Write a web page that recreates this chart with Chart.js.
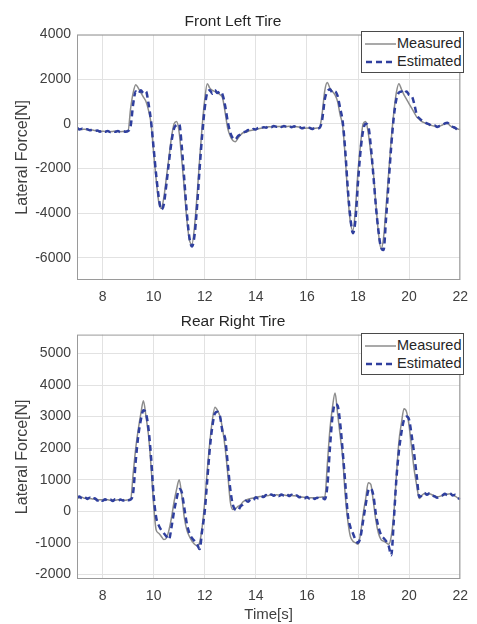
<!DOCTYPE html>
<html>
<head>
<meta charset="utf-8">
<script src="https://cdn.jsdelivr.net/npm/chart.js@4.4.1/dist/chart.umd.min.js"></script>
<style>
  body { margin: 0; background: #fff; width: 477px; height: 624px; overflow: hidden; position: relative; font-family: "Liberation Sans", Arial, sans-serif; }
  .panel { position: absolute; left: 0; width: 477px; }
  .legend { position: absolute; left: 361px; width: 101px; height: 40px; border: 1px solid #4a4a4a; background: #fff; color: #262626; font-size: 14.5px; }
  .legend .row { position: absolute; left: 3px; height: 18px; line-height: 18px; white-space: nowrap; }
  .legend svg { vertical-align: middle; margin-right: 1px; }
</style>
</head>
<body>
<div class="panel" style="top:0;height:312px;"><canvas id="front"></canvas></div>
<div class="panel" style="top:300px;height:324px;"><canvas id="rear"></canvas></div>

<div class="legend" style="top:31px;">
  <div class="row" style="top:2px;"><svg width="31" height="6"><line x1="0" y1="3" x2="31" y2="3" stroke="#8c8c8c" stroke-width="1.5"/></svg>Measured</div>
  <div class="row" style="top:20px;"><svg width="31" height="6"><line x1="1" y1="3" x2="31" y2="3" stroke="#2f3f9e" stroke-width="2.5" stroke-dasharray="6,4"/></svg>Estimated</div>
</div>
<div class="legend" style="top:333px;">
  <div class="row" style="top:2px;"><svg width="31" height="6"><line x1="0" y1="3" x2="31" y2="3" stroke="#8c8c8c" stroke-width="1.5"/></svg>Measured</div>
  <div class="row" style="top:20px;"><svg width="31" height="6"><line x1="1" y1="3" x2="31" y2="3" stroke="#2f3f9e" stroke-width="2.5" stroke-dasharray="6,4"/></svg>Estimated</div>
</div>

<script>
// time stamps [s]
const time = [
  7.0, 7.1, 7.2, 7.3, 7.4, 7.5, 7.6, 7.7, 7.8, 7.9,
  8.0, 8.1, 8.2, 8.3, 8.4, 8.5, 8.6, 8.7, 8.8, 8.9,
  9.0, 9.1, 9.2, 9.3, 9.4, 9.5, 9.6, 9.7, 9.8, 9.9,
  10.0, 10.1, 10.2, 10.3, 10.4, 10.5, 10.6, 10.7, 10.8, 10.9,
  11.0, 11.1, 11.2, 11.3, 11.4, 11.5, 11.6, 11.7, 11.8, 11.9,
  12.0, 12.1, 12.2, 12.3, 12.4, 12.5, 12.6, 12.7, 12.8, 12.9,
  13.0, 13.1, 13.2, 13.3, 13.4, 13.5, 13.6, 13.7, 13.8, 13.9,
  14.0, 14.1, 14.2, 14.3, 14.4, 14.5, 14.6, 14.7, 14.8, 14.9,
  15.0, 15.1, 15.2, 15.3, 15.4, 15.5, 15.6, 15.7, 15.8, 15.9,
  16.0, 16.1, 16.2, 16.3, 16.4, 16.5, 16.6, 16.7, 16.8, 16.9,
  17.0, 17.1, 17.2, 17.3, 17.4, 17.5, 17.6, 17.7, 17.8, 17.9,
  18.0, 18.1, 18.2, 18.3, 18.4, 18.5, 18.6, 18.7, 18.8, 18.9,
  19.0, 19.1, 19.2, 19.3, 19.4, 19.5, 19.6, 19.7, 19.8, 19.9,
  20.0, 20.1, 20.2, 20.3, 20.4, 20.5, 20.6, 20.7, 20.8, 20.9,
  21.0, 21.1, 21.2, 21.3, 21.4, 21.5, 21.6, 21.7, 21.8, 21.9,
  22.0
];

// front left tire lateral force [N]
const frontMeasured = [
  -200, -230, -250, -240, -260, -270, -280, -300, -310, -320,
  -330, -340, -330, -350, -340, -330, -340, -350, -340, -330,
  -310, 700, 1400, 1750, 1600, 1400, 1200, 1000, 600, 0,
  -1300, -2500, -3500, -3800, -3300, -2400, -1500, -600, 0, 100,
  -400, -1600, -2900, -4300, -5200, -5400, -4600, -3200, -1600, -100,
  1100, 1800, 1600, 1500, 1450, 1400, 1300, 1150, 500, -200,
  -550, -750, -800, -650, -500, -400, -380, -330, -300, -280,
  -250, -220, -200, -170, -150, -130, -140, -120, -110, -120,
  -110, -130, -120, -110, -130, -140, -130, -150, -180, -200,
  -190, -200, -210, -200, -190, -150, 500, 1500, 1850, 1600,
  1450, 1300, 1000, 400, -100, -1500, -3200, -4400, -4780, -3800,
  -2100, -900, 0, 100, -400, -1300, -2200, -3600, -4900, -5600,
  -5100, -3700, -2200, -700, 500, 1400, 1800, 1550, 1300, 1100,
  900, 700, 500, 300, 200, 100, 50, 0, -50, -80,
  -100, -120, -100, -50, 0, 30, -80, -150, -200, -230,
  -260
];
const frontEstimated = [
  -180, -250, -220, -270, -240, -290, -270, -320, -300, -350,
  -310, -360, -320, -370, -330, -360, -320, -370, -330, -350,
  -320, -100, 900, 1450, 1350, 1500, 1380, 1450, 900, 100,
  -1100, -2300, -3300, -3850, -3600, -2700, -1700, -800, -200, -50,
  0, -1000, -2500, -4000, -5100, -5500, -5000, -3700, -2000, -500,
  700, 1400, 1500, 1350, 1500, 1380, 1450, 1300, 800, 100,
  -400, -650, -700, -550, -480, -380, -350, -280, -300, -230,
  -250, -180, -200, -150, -170, -110, -150, -100, -130, -90,
  -140, -100, -130, -90, -150, -110, -160, -140, -200, -170,
  -220, -180, -230, -190, -210, -180, 200, 1100, 1450, 1550,
  1400, 1450, 1250, 700, 100, -1200, -2900, -4200, -4900, -4300,
  -2600, -1200, -300, 0, -100, -1000, -2300, -3700, -4800, -5550,
  -5650, -4200, -2600, -1000, 300, 1100, 1400, 1450, 1350, 1450,
  1300, 1250, 900, 400, 250, 150, 80, 20, -30, -100,
  -80, -140, -90, -60, 20, 50, -60, -130, -180, -260,
  -280
];

// rear right tire lateral force [N]
const rearMeasured = [
  450, 420, 440, 410, 420, 400, 390, 380, 370, 360,
  360, 350, 360, 350, 360, 350, 360, 350, 360, 350,
  360, 380, 1200, 2000, 2600, 3100, 3500, 3000, 2400, 1400,
  200, -600, -700, -800, -900, -850, -600, -200, 300, 700,
  1000, 500, -200, -600, -800, -950, -1050, -1100, -1000, -500,
  300, 1300, 2200, 2900, 3300, 3200, 3000, 2600, 2000, 1200,
  300, 50, 80, 150, 200, 300, 350, 380, 400, 420,
  440, 460, 470, 480, 490, 500, 510, 500, 520, 510,
  500, 510, 500, 520, 500, 490, 480, 470, 450, 440,
  430, 420, 430, 420, 430, 440, 450, 450, 1500, 2600,
  3300, 3750, 3100, 2400, 1700, 500, -300, -800, -950, -1000,
  -1050, -700, -100, 400, 900, 850, 300, -300, -700, -900,
  -950, -1000, -1050, -800, -100, 1100, 2200, 2800, 3250, 3150,
  2700, 2000, 1300, 800, 400, 500, 560, 540, 550, 520,
  480, 460, 470, 500, 520, 540, 550, 520, 480, 420,
  380
];
const rearEstimated = [
  420, 470, 400, 450, 390, 430, 370, 410, 340, 390,
  330, 380, 330, 370, 320, 380, 330, 370, 340, 380,
  350, 370, 600, 1600, 2400, 2900, 3200, 3100, 2600, 1700,
  500, -200, -450, -600, -700, -800, -900, -500, 0, 400,
  700, 600, 100, -400, -700, -850, -950, -1050, -1200, -600,
  0, 1000, 2000, 2700, 3100, 3150, 3000, 2500, 2300, 1500,
  700, 200, 50, 30, 150, 220, 330, 300, 380, 360,
  440, 410, 480, 450, 510, 470, 530, 490, 540, 480,
  530, 490, 540, 480, 520, 470, 500, 440, 470, 410,
  450, 400, 440, 390, 430, 400, 420, 380, 800, 2000,
  3000, 3400, 3350, 2800, 1900, 900, -100, -500, -700, -900,
  -1000, -800, -300, 200, 650, 720, 500, -100, -500, -750,
  -850, -950, -1100, -1400, -300, 1000, 1900, 2500, 2900, 3000,
  2900, 2400, 1800, 1100, 450, 500, 580, 520, 570, 500,
  470, 430, 480, 500, 550, 510, 570, 500, 520, 430,
  380
];

// tick positions
const timeTicks = [8, 10, 12, 14, 16, 18, 20, 22];
const frontTicks = [-6000, -4000, -2000, 0, 2000, 4000];
const rearTicks = [-2000, -1000, 0, 1000, 2000, 3000, 4000, 5000];

const textColor = '#404040';
const gridColor = '#e2e2e2';
const boxColor = '#9a9a9a';

// box around the plot area, like MATLAB "box on"
const boxPlugin = {
  id: 'box',
  afterDraw(chart) {
    const a = chart.chartArea;
    const ctx = chart.ctx;
    ctx.save();
    ctx.strokeStyle = boxColor;
    ctx.lineWidth = 1;
    ctx.strokeRect(a.left + 0.5, a.top + 0.5, a.right - a.left - 1, a.bottom - a.top - 1);
    ctx.restore();
  }
};

function points(values) {
  return time.map((t, i) => ({ x: t, y: values[i] }));
}

function makeChart(id, height, xAxisHeight, title, measured, estimated, yMin, yMax, yTicks, xTitle) {
  const canvas = document.getElementById(id);
  canvas.width = 477;
  canvas.height = height;
  return new Chart(canvas.getContext('2d'), {
    type: 'line',
    data: {
      datasets: [
        {
          label: 'Estimated',
          data: points(estimated),
          borderColor: '#2f3f9e',
          borderWidth: 2.5,
          borderDash: [6, 4],
          pointRadius: 0,
          cubicInterpolationMode: 'monotone',
          order: 0
        },
        {
          label: 'Measured',
          data: points(measured),
          borderColor: '#8c8c8c',
          borderWidth: 1.5,
          pointRadius: 0,
          cubicInterpolationMode: 'monotone',
          order: 1
        }
      ]
    },
    options: {
      responsive: false,
      animation: false,
      layout: { padding: { left: 0, right: 11, top: 0, bottom: 0 } },
      plugins: {
        legend: { display: false },
        tooltip: { enabled: false },
        title: {
          display: true,
          text: title,
          color: '#262626',
          font: { family: 'Liberation Sans', size: 15.5, weight: 'normal' },
          padding: { top: 12, bottom: 4 }
        }
      },
      scales: {
        x: {
          type: 'linear',
          min: 7,
          max: 22,
          afterBuildTicks(scale) { scale.ticks = timeTicks.map(v => ({ value: v })); },
          ticks: { color: textColor, padding: 9, maxRotation: 0, autoSkip: false,
                   callback: v => String(v),
                   font: { family: 'Liberation Sans', size: 14 } },
          grid: { color: gridColor, drawTicks: false },
          border: { display: false },
          title: { display: !!xTitle, text: xTitle || '', color: textColor, padding: { top: 0, bottom: 0 },
                   font: { family: 'Liberation Sans', size: 15 } },
          afterFit(scale) { scale.height = xAxisHeight; }
        },
        y: {
          min: yMin,
          max: yMax,
          afterBuildTicks(scale) { scale.ticks = yTicks.map(v => ({ value: v })); },
          ticks: { color: textColor, padding: 6, autoSkip: false,
                   callback: v => String(v),
                   font: { family: 'Liberation Sans', size: 14 } },
          grid: { color: gridColor, drawTicks: false },
          border: { display: false },
          title: { display: true, text: 'Lateral Force[N]', color: textColor, padding: { top: 13, bottom: 0 },
                   font: { family: 'Liberation Sans', size: 16 } },
          afterFit(scale) { scale.width = 77; }
        }
      }
    },
    plugins: [boxPlugin]
  });
}

makeChart('front', 312, 32, 'Front Left Tire', frontMeasured, frontEstimated, -7000, 4000, frontTicks, null);
makeChart('rear', 324, 45, 'Rear Right Tire', rearMeasured, rearEstimated, -2150, 5600, rearTicks, 'Time[s]');
</script>
</body>
</html>
